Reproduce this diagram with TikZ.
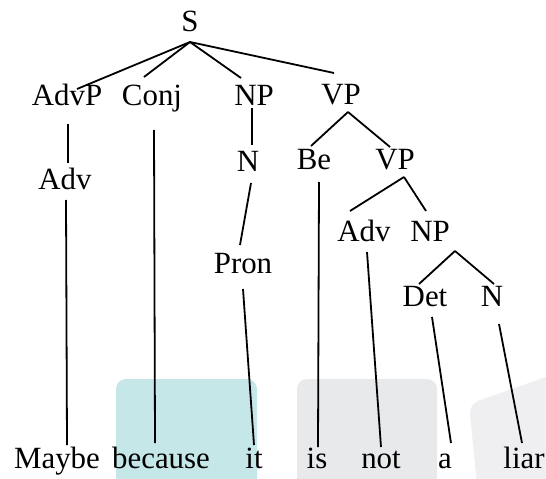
\documentclass[tikz,border=0pt]{standalone}
\usepackage{fontspec}
\setmainfont{Liberation Serif}
\newfontfamily\treefont{Liberation Serif}
\begin{document}
\begin{tikzpicture}[x=1bp,y=-1bp,
  lbl/.style={anchor=base,inner sep=0pt,font=\treefont\fontsize{31}{36}\selectfont},
  edge/.style={line width=1.8bp,black},
  bgbox/.style={rounded corners=10bp,draw=none}]
\useasboundingbox (0,0) rectangle (546,479);
\definecolor{tealbg}{HTML}{C5E7E8}
\definecolor{graybg}{HTML}{E8E9EB}
\definecolor{graybgb}{HTML}{EFEFF1}
% background shapes
\fill[tealbg,bgbox] (116,379) rectangle (257,495);
\fill[graybg,bgbox] (297,379) rectangle (437,495);
\fill[graybgb,rounded corners=10bp] (478,495) -- (469,404) -- (560,372) -- (560,495) -- cycle;
% nodes
\node[lbl] (S) at (190,32) {S};
\node[lbl] (AdvP) at (67,106) {AdvP};
\node[lbl] (Conj) at (152,106) {Conj};
\node[lbl] (NPa) at (254,106) {NP};
\node[lbl] (VPa) at (341,105) {VP};
\node[lbl] (Adva) at (65,190) {Adv};
\node[lbl] (Na) at (248,172) {N};
\node[lbl] (Pron) at (243,273) {Pron};
\node[lbl] (Be) at (314,170) {Be};
\node[lbl] (VPb) at (395,170) {VP};
\node[lbl] (Advb) at (364,241) {Adv};
\node[lbl] (NPb) at (430,241) {NP};
\node[lbl] (Det) at (425,306) {Det};
\node[lbl] (Nb) at (492,306) {N};
\node[lbl] (maybe) at (57,468) {Maybe};
\node[lbl] (because) at (161,468) {because};
\node[lbl] (it) at (254,468) {it};
\node[lbl] (is) at (317,468) {is};
\node[lbl] (not) at (381,468) {not};
\node[lbl] (a) at (445,468) {a};
\node[lbl] (liar) at (524,468) {liar};
% connectors
\draw[edge] ([shift={(0,10)}]S.base) -- ([shift={(10,-17)}]AdvP.base);
\draw[edge] ([shift={(0,10)}]S.base) -- ([shift={(-8,-29)}]Conj.base);
\draw[edge] ([shift={(0,10)}]S.base) -- ([shift={(-13,-28)}]NPa.base);
\draw[edge] ([shift={(0,10)}]S.base) -- ([shift={(-7,-32)}]VPa.base);
\draw[edge] ([shift={(1,18)}]AdvP.base) -- ([shift={(3,-27)}]Adva.base);
\draw[edge] ([shift={(1,10)}]Adva.base) -- ([shift={(10,-23)}]maybe.base);
\draw[edge] ([shift={(2,24)}]Conj.base) -- ([shift={(-6,-25)}]because.base);
\draw[edge] ([shift={(-2,2)}]NPa.base) -- ([shift={(4,-27)}]Na.base);
\draw[edge] ([shift={(3,11)}]Na.base) -- ([shift={(-3,-28)}]Pron.base);
\draw[edge] ([shift={(0,16)}]Pron.base) -- ([shift={(0,-23)}]it.base);
\draw[edge] ([shift={(7,7)}]VPa.base) -- ([shift={(-3,-24)}]Be.base);
\draw[edge] ([shift={(7,7)}]VPa.base) -- ([shift={(-5,-23)}]VPb.base);
\draw[edge] ([shift={(5,12)}]Be.base) -- ([shift={(1,-21)}]is.base);
\draw[edge] ([shift={(9,7)}]VPb.base) -- ([shift={(-14,-30)}]Advb.base);
\draw[edge] ([shift={(9,7)}]VPb.base) -- ([shift={(-4,-30)}]NPb.base);
\draw[edge] ([shift={(3,11)}]Advb.base) -- ([shift={(0,-21)}]not.base);
\draw[edge] ([shift={(25,10)}]NPb.base) -- ([shift={(-6,-22)}]Det.base);
\draw[edge] ([shift={(25,10)}]NPb.base) -- ([shift={(2,-22)}]Nb.base);
\draw[edge] ([shift={(7,11)}]Det.base) -- ([shift={(6,-25)}]a.base);
\draw[edge] ([shift={(7,18)}]Nb.base) -- ([shift={(-2,-25)}]liar.base);
\end{tikzpicture}
\end{document}
